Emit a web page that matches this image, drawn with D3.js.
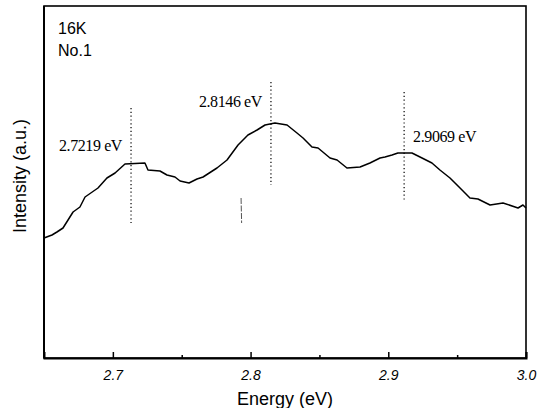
<!DOCTYPE html>
<html>
<head>
<meta charset="utf-8">
<script src="https://cdn.jsdelivr.net/npm/d3@7/dist/d3.min.js"></script>
<style>
  body { margin: 0; background: #fff; }
  svg { display: block; }
</style>
</head>
<body>
<div id="root"></div>
<script>
// spectrum (energy in eV, intensity in a.u.)
const energy = [
  2.650, 2.6558, 2.6594, 2.6638, 2.6711, 2.6761, 2.6798, 2.6892, 2.6957, 2.7016,
  2.7088, 2.7233, 2.7255, 2.7342, 2.7393, 2.7451, 2.7488, 2.7553, 2.7611, 2.7655,
  2.7756, 2.7829, 2.7909, 2.7981, 2.8047, 2.8105, 2.8177, 2.8265, 2.8337, 2.8381,
  2.8446, 2.8490, 2.8577, 2.8628, 2.8700, 2.8795, 2.8867, 2.8940, 2.8976, 2.9027,
  2.9070, 2.9172, 2.9245, 2.9317, 2.9375, 2.9448, 2.9521, 2.9593, 2.9651, 2.9739,
  2.9833, 2.9942, 2.9978, 3.000
];
const intensity = [
  120, 123, 126, 130, 146, 151, 161, 170, 180, 185,
  194, 195, 188, 187, 183, 181, 177, 175, 179, 181,
  190, 198, 213, 223, 228, 233, 235, 233, 225, 220,
  211, 210, 200, 198, 190, 191, 195, 200, 201, 203,
  205, 205, 200, 195, 188, 180, 170, 160, 159, 153,
  155, 150, 153, 150
];

// peak markers: where the dotted line sits, its extent, and its label
const peakPos = [2.7132, 2.8148, 2.9115];
const peakTop = [250, 276, 266];
const peakBottom = [135, 173, 157];
const peakLabels = ["2.7219 eV", "2.8146 eV", "2.9069 eV"];

const xTicks = [2.7, 2.8, 2.9, 3.0];
const xMinor = [2.75, 2.85, 2.95];
const notes = ["16K", "No.1"];

const width = 540, height = 408;
const margin = { top: 6, right: 14, bottom: 50, left: 44 };

let svg = d3.select("#root").append("svg")
  .attr("width", width)
  .attr("height", height);

let x = d3.scaleLinear()
  .domain([2.65, 3.0])
  .range([margin.left, width - margin.right]);

let y = d3.scaleLinear()
  .domain([0, 352])
  .range([height - margin.bottom, margin.top]);

// frame
svg.append("rect")
  .attr("x", x(2.65))
  .attr("y", y(352))
  .attr("width", x(3.0) - x(2.65))
  .attr("height", y(0) - y(352))
  .attr("fill", "none")
  .attr("stroke", "#000")
  .attr("stroke-width", 1.6);

// bottom axis, ticks pointing inward
let xAxis = svg.append("g")
  .attr("transform", `translate(0,${y(0)})`)
  .call(d3.axisBottom(x).tickValues(xTicks).tickSize(-6).tickFormat(d3.format(".1f")));
xAxis.select(".domain").attr("stroke-width", 2);
xAxis.selectAll(".tick line").attr("stroke-width", 1.5);
xAxis.selectAll(".tick text")
  .attr("dy", "1.35em")
  .attr("font-family", "Arial, 'Liberation Sans', sans-serif")
  .attr("font-style", "italic")
  .attr("font-size", 14)
  .attr("fill", "#000");

svg.append("g")
  .attr("transform", `translate(0,${y(0)})`)
  .call(d3.axisBottom(x).tickValues(xMinor).tickSize(-3).tickFormat(""))
  .call(g => g.select(".domain").remove())
  .selectAll(".tick line").attr("stroke-width", 1.5);

// left axis heavier
svg.append("line")
  .attr("x1", x(2.65)).attr("x2", x(2.65))
  .attr("y1", y(352)).attr("y2", y(0))
  .attr("stroke", "#000")
  .attr("stroke-width", 2);

// spectrum
let line = d3.line()
  .x(d => x(d[0]))
  .y(d => y(d[1]));

svg.append("path")
  .datum(energy.map((e, i) => [e, intensity[i]]))
  .attr("d", line)
  .attr("fill", "none")
  .attr("stroke", "#000")
  .attr("stroke-width", 1.5)
  .attr("stroke-linejoin", "round");

// dotted peak markers
peakPos.forEach((p, i) => {
  svg.append("line")
    .attr("x1", x(p)).attr("x2", x(p))
    .attr("y1", y(peakTop[i])).attr("y2", y(peakBottom[i]))
    .attr("stroke", "#000")
    .attr("stroke-width", 1.2)
    .attr("stroke-dasharray", "1.2,2.6");

  let anchor = i === 2 ? "start" : "end";
  let dx = i === 2 ? 9 : -9;
  let baseline = [151, 107, 142][i];
  svg.append("text")
    .attr("x", x(p) + dx)
    .attr("y", baseline)
    .attr("text-anchor", anchor)
    .attr("font-family", "'Liberation Serif', 'Times New Roman', serif")
    .attr("font-size", 16)
    .attr("letter-spacing", -0.4)
    .text(peakLabels[i]);
});

// stray short mark near 2.793 eV in the original
svg.append("line")
  .attr("x1", x(2.7931)).attr("x2", x(2.7935))
  .attr("y1", y(160)).attr("y2", y(135))
  .attr("stroke", "#555")
  .attr("stroke-width", 1)
  .attr("stroke-dasharray", "6,1.5");

// sample notes
svg.selectAll(".note")
  .data(notes)
  .enter()
  .append("text")
  .attr("class", "note")
  .attr("x", 58)
  .attr("y", (d, i) => 34 + i * 22)
  .attr("font-family", "Arial, 'Liberation Sans', sans-serif")
  .attr("font-size", 16)
  .text(d => d);

// axis titles
svg.append("text")
  .attr("x", (x(2.65) + x(3.0)) / 2)
  .attr("y", 405)
  .attr("text-anchor", "middle")
  .attr("font-family", "Arial, 'Liberation Sans', sans-serif")
  .attr("font-size", 18)
  .text("Energy (eV)");

svg.append("text")
  .attr("transform", "translate(26,176) rotate(-90)")
  .attr("text-anchor", "middle")
  .attr("font-family", "Arial, 'Liberation Sans', sans-serif")
  .attr("font-size", 18)
  .text("Intensity (a.u.)");
</script>
</body>
</html>
